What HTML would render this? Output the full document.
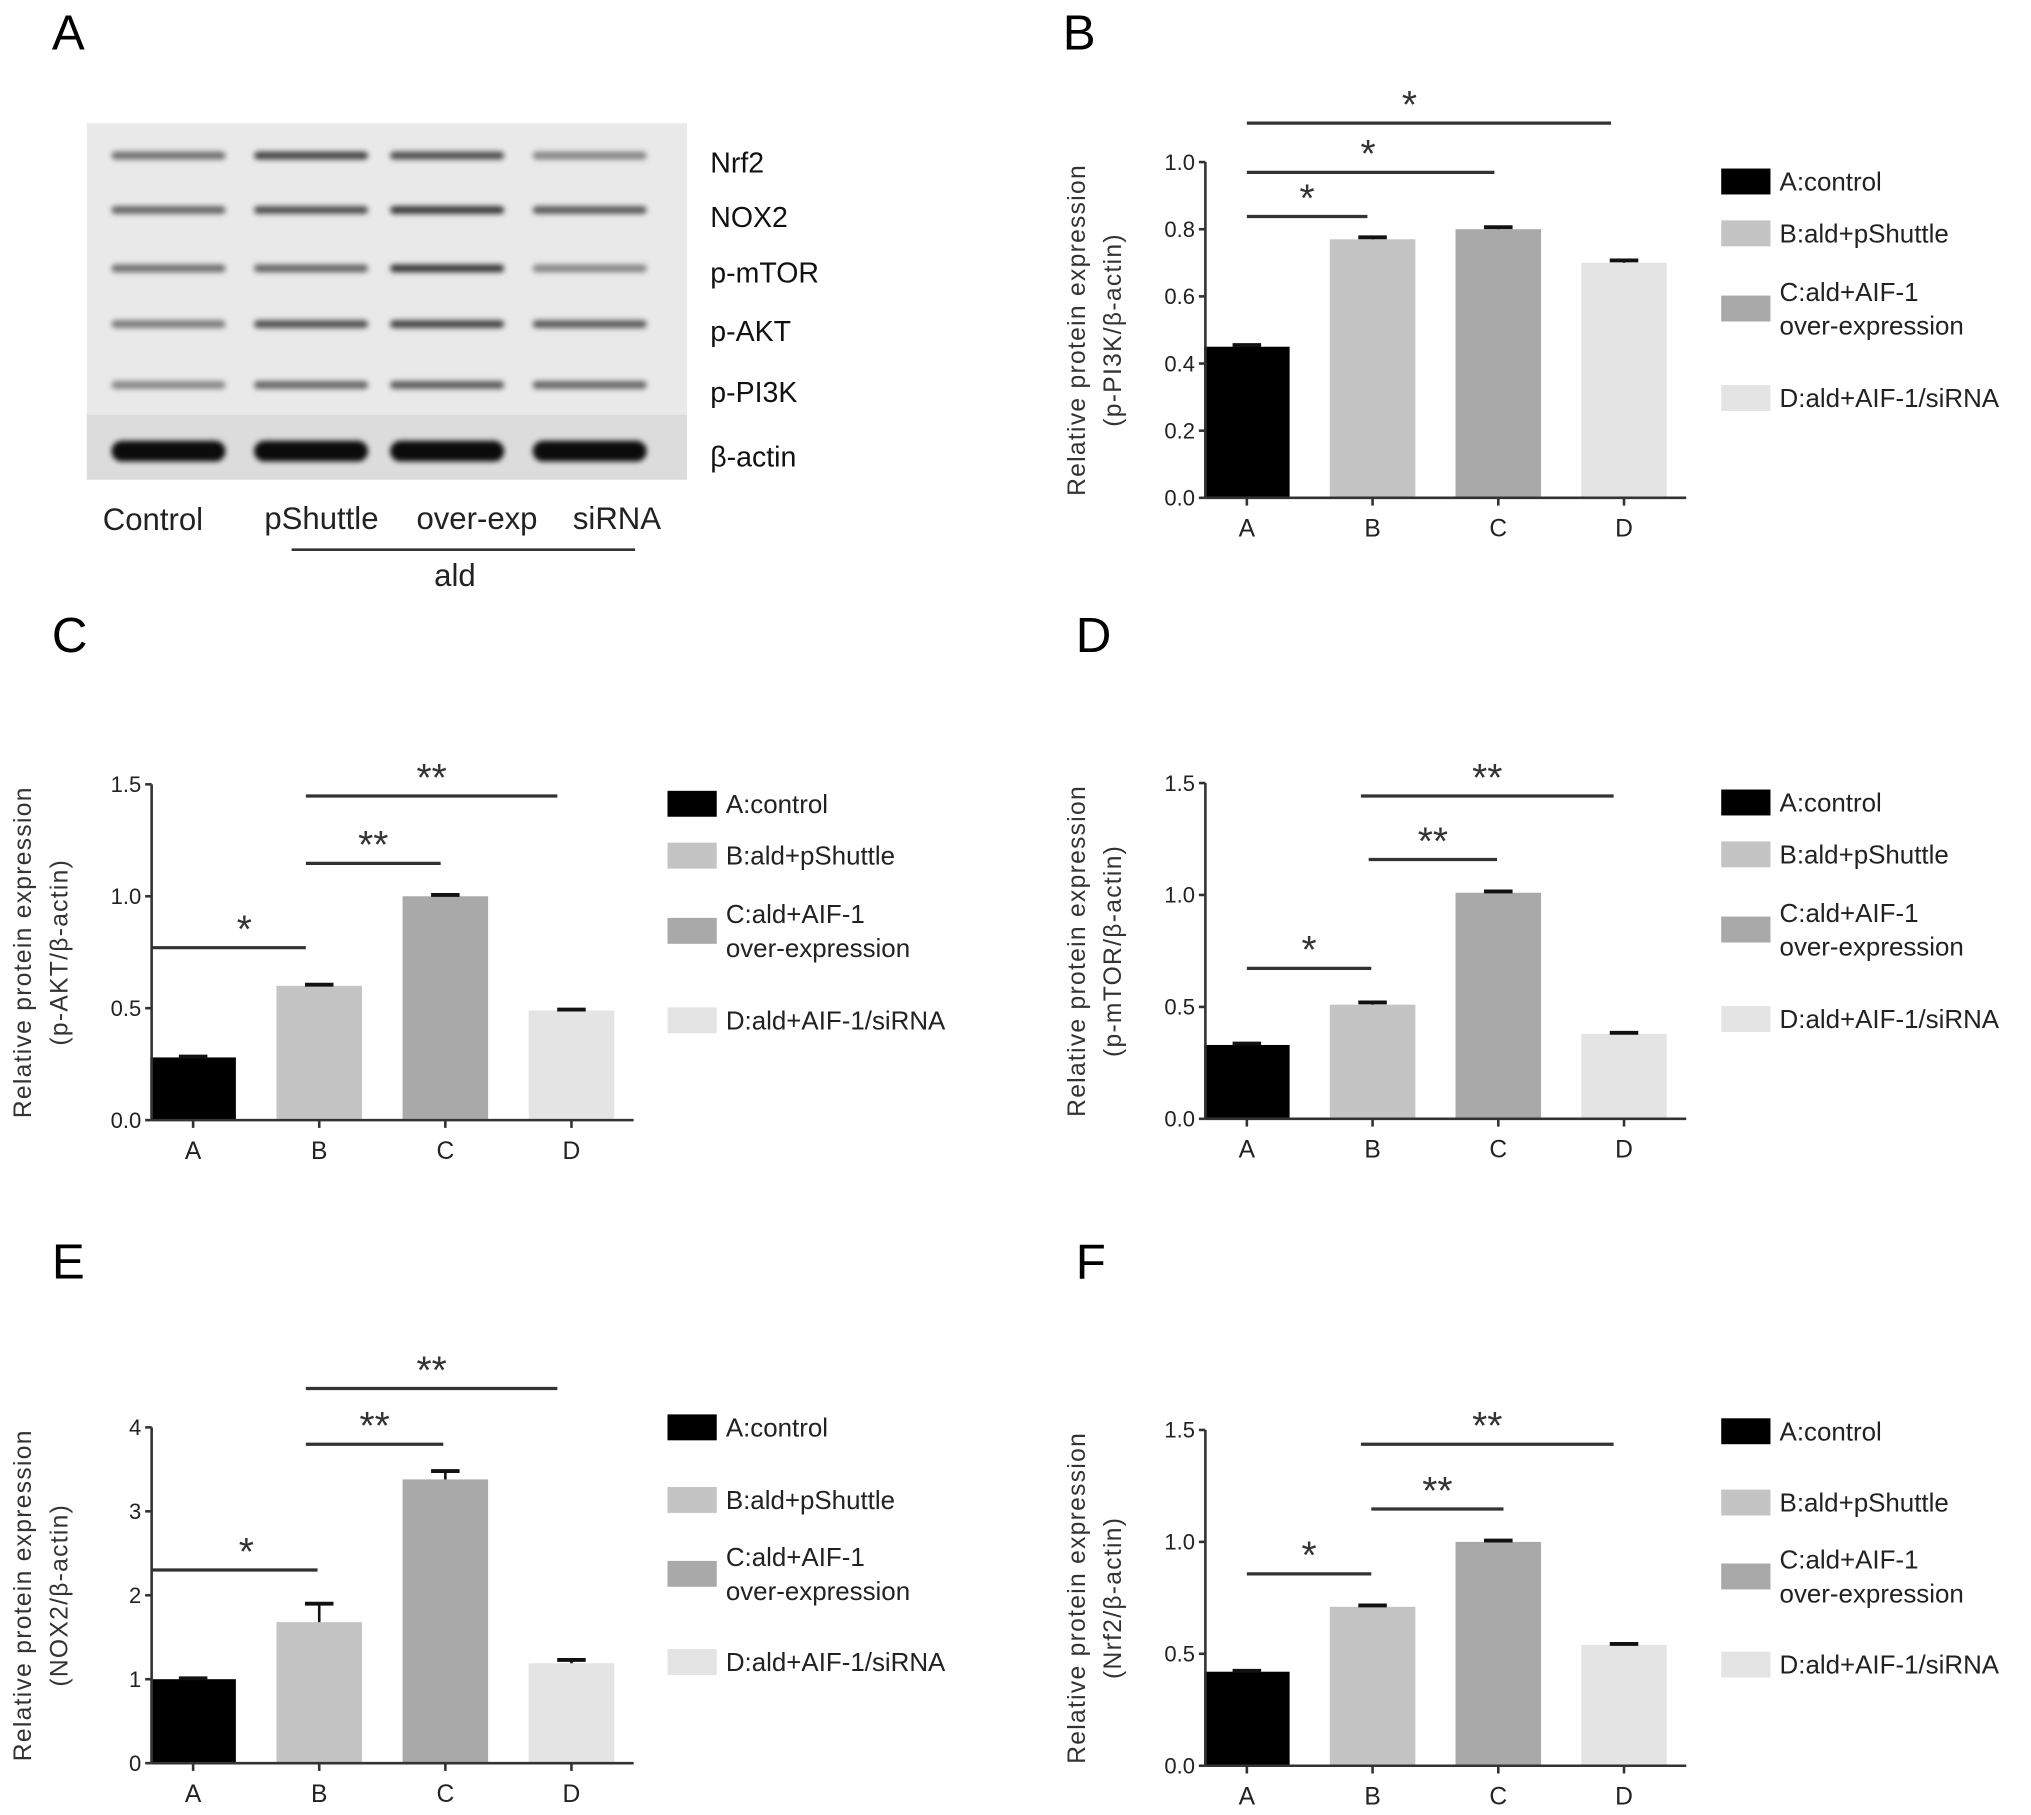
<!DOCTYPE html>
<html><head><meta charset="utf-8">
<style>
html,body{margin:0;padding:0;background:#fff;}
svg{display:block;font-family:"Liberation Sans",sans-serif;}
</style></head>
<body>
<svg id="fig" width="2031" height="1815" viewBox="0 0 1567 1400" preserveAspectRatio="none" xmlns="http://www.w3.org/2000/svg">
<defs><filter id="blur" x="-20%" y="-200%" width="140%" height="500%"><feGaussianBlur stdDeviation="2"/></filter></defs>
<rect width="1567" height="1400" fill="#fff"/>
<g>
<text x="40" y="38" font-size="38">A</text>
<rect x="67" y="95" width="463" height="275" fill="#e9e9e9"/>
<rect x="67" y="320" width="463" height="50" fill="#dcdcdc"/>
<g id="bands" filter="url(#blur)"></g>
<g font-size="22" fill="#111">
<text x="548" y="133">Nrf2</text>
<text x="548" y="175">NOX2</text>
<text x="548" y="218">p-mTOR</text>
<text x="548" y="263">p-AKT</text>
<text x="548" y="310">p-PI3K</text>
<text x="548" y="360">β-actin</text>
</g>
<g font-size="24" fill="#222">
<text x="118" y="409" text-anchor="middle">Control</text>
<text x="248" y="408" text-anchor="middle">pShuttle</text>
<text x="368" y="408" text-anchor="middle">over-exp</text>
<text x="476" y="408" text-anchor="middle">siRNA</text>
<line x1="225" y1="424" x2="490" y2="424" stroke="#333" stroke-width="2"/>
<text x="351" y="452" text-anchor="middle">ald</text>
</g>
</g>
<g id="charts"></g>
</svg>
<script>
const NS="http://www.w3.org/2000/svg";
const categories=["A","B","C","D"];
const legendLabels=["A:control","B:ald+pShuttle","C:ald+AIF-1","D:ald+AIF-1/siRNA"];
const colors=["#000000","#c4c4c4","#a9a9a9","#e4e4e4"];
const valsB=[0.45,0.77,0.80,0.70]; const errB=[0.005,0.006,0.006,0.007];
const valsC=[0.28,0.60,1.00,0.49]; const errC=[0.004,0.005,0.006,0.004];
const valsD=[0.33,0.51,1.01,0.38]; const errD=[0.006,0.01,0.006,0.004];
const valsE=[1.00,1.68,3.38,1.19]; const errE=[0.01,0.22,0.10,0.04];
const valsF=[0.42,0.71,1.00,0.54]; const errF=[0.004,0.006,0.006,0.004];
const ticks15=["0.0","0.5","1.0","1.5"]; const ticks10=["0.0","0.2","0.4","0.6","0.8","1.0"]; const ticks4=["0","1","2","3","4"];
const bandIntensity=[[0.55,0.75,0.7,0.45],[0.6,0.7,0.8,0.65],[0.55,0.6,0.8,0.45],[0.5,0.7,0.75,0.65],[0.45,0.6,0.65,0.6],[1,1,1,1]];

function el(tag,attrs,parent){const e=document.createElementNS(NS,tag);for(const k in attrs)e.setAttribute(k,attrs[k]);(parent||document.getElementById('charts')).appendChild(e);return e;}

const bg=document.getElementById('bands');
const bandY=[120,162,207,250,297,348];const laneX=[130,240,345,455];
bandIntensity.forEach((row,r)=>row.forEach((v,c)=>{
 const h=r===5?16:6;
 const b=el('rect',{x:laneX[c]-44,y:bandY[r]-h/2,width:88,height:h,rx:h/2,fill:`rgba(0,0,0,${Math.min(1,v*0.95)})`},bg);
 
 
}));

function chart(cfg){
 const g=el('g',{});
 
 
 const L=el('text',{x:cfg.lx,y:cfg.ly,'font-size':38},g);L.textContent=cfg.id.toUpperCase();
 
 const ax=cfg.ax, y0=cfg.y0, y1=cfg.y1, max=cfg.max;
 const y=v=>y0-(v/max)*(y0-y1);
 const xc=i=>cfg.x0+i*cfg.step;
 cfg.vals.forEach((v,i)=>{
  const r=el('rect',{x:xc(i)-33,y:y(v),width:66,height:y0-y(v),fill:colors[i]},g);
  
  
  const e=cfg.err[i];
  el('line',{x1:xc(i),x2:xc(i),y1:y(v),y2:y(v+e),stroke:'#111','stroke-width':2},g);
  el('line',{x1:xc(i)-11,x2:xc(i)+11,y1:y(v+e),y2:y(v+e),stroke:'#111','stroke-width':3},g);
 });
 el('line',{x1:ax,x2:ax,y1:y1,y2:y0,stroke:'#333','stroke-width':2},g);
 el('line',{x1:ax,x2:cfg.x0+3*cfg.step+48,y1:y0,y2:y0,stroke:'#333','stroke-width':2},g);
 cfg.ticks.forEach((t,i)=>{
  const v=i*max/(cfg.ticks.length-1);
  el('line',{x1:ax-5,x2:ax,y1:y(v),y2:y(v),stroke:'#333','stroke-width':2},g);
  const tx=el('text',{x:ax-8,y:y(v)+6,'font-size':17,'text-anchor':'end',fill:'#222'},g);tx.textContent=t;
  
 });
 categories.forEach((c,i)=>{
  el('line',{x1:xc(i),x2:xc(i),y1:y0,y2:y0+6,stroke:'#333','stroke-width':2},g);
  const tx=el('text',{x:xc(i),y:y0+30,'font-size':19,'text-anchor':'middle',fill:'#222'},g);tx.textContent=c;
  
 });
 const my=(y0+y1)/2;
 const t1=el('text',{x:0,y:0,'font-size':19,'text-anchor':'middle',fill:'#333','letter-spacing':'1',transform:`translate(${ax-93},${my}) rotate(-90)`},g);
 t1.textContent='Relative protein expression';
 
 const t2=el('text',{x:0,y:0,'font-size':19,'text-anchor':'middle',fill:'#333','letter-spacing':'1',transform:`translate(${ax-65},${my}) rotate(-90)`},g);
 t2.textContent=cfg.sub;
 
 cfg.sig.forEach(s=>{
  const ln=el('line',{x1:s[0],x2:s[1],y1:s[2],y2:s[2],stroke:'#333','stroke-width':2.5},g);
  
  const st=el('text',{x:(s[0]+s[1])/2+(s[4]||0),y:s[2]-4,'font-size':30,'text-anchor':'middle',fill:'#333'},g);st.textContent=s[3];
  
 });
 cfg.leg.forEach((ly,i)=>{
  const sw=el('rect',{x:cfg.legx,y:ly-10,width:38,height:20,fill:colors[i]},g);
  
  const tx=el('text',{x:cfg.legx+45,y:i===2?ly-6:ly+7,'font-size':20,fill:'#222'},g);tx.textContent=legendLabels[i];
  
  if(i===2){const t3=el('text',{x:cfg.legx+45,y:ly+20,'font-size':20,fill:'#222'},g);t3.textContent='over-expression';
   }
 });
}
chart({id:'b',lx:820,ly:38,ax:930,y0:384,y1:125,max:1.0,x0:962,step:97,vals:valsB,err:errB,ticks:ticks10,sub:'(p-PI3K/β-actin)',
 sig:[[962,1243,95,'*',-15],[962,1153,133,'*',-2],[962,1055,167,'*']],legx:1328,leg:[140,180,238,307]});
chart({id:'c',lx:40,ly:503,ax:117,y0:864,y1:605,max:1.5,x0:149,step:97.3,vals:valsC,err:errC,ticks:ticks15,sub:'(p-AKT/β-actin)',
 sig:[[117,236,731,'*',12],[236,340,666,'**'],[236,430,614,'**']],legx:515,leg:[620,660,718,787]});
chart({id:'d',lx:830,ly:503,ax:930,y0:863,y1:604,max:1.5,x0:962,step:97,vals:valsD,err:errD,ticks:ticks15,sub:'(p-mTOR/β-actin)',
 sig:[[962,1058,747,'*'],[1056,1155,663,'**'],[1050,1245,614,'**']],legx:1328,leg:[619,659,717,786]});
chart({id:'e',lx:40,ly:986,ax:117,y0:1360,y1:1101,max:4,x0:149,step:97.3,vals:valsE,err:errE,ticks:ticks4,sub:'(NOX2/β-actin)',
 sig:[[117,245,1211,'*',9],[236,342,1114,'**'],[236,430,1071,'**']],legx:515,leg:[1101,1157,1214,1282]});
chart({id:'f',lx:830,ly:986,ax:930,y0:1362,y1:1103,max:1.5,x0:962,step:97,vals:valsF,err:errF,ticks:ticks15,sub:'(Nrf2/β-actin)',
 sig:[[962,1058,1214,'*'],[1058,1160,1164,'**'],[1050,1245,1114,'**']],legx:1328,leg:[1104,1159,1216,1284]});
</script>
</body></html>
